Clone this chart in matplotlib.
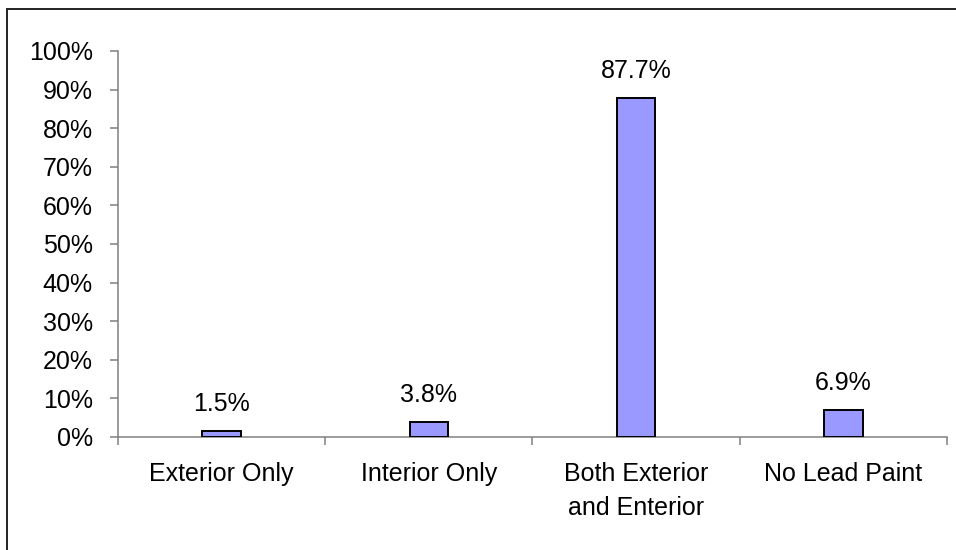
import matplotlib.pyplot as plt
import matplotlib.patches as mpatches
from matplotlib.ticker import FixedLocator, PercentFormatter

plt.rcParams['font.family'] = ['Liberation Sans', 'DejaVu Sans']

# lead paint location shares
categories = ['Exterior Only', 'Interior Only', 'Both Exterior\nand Enterior', 'No Lead Paint']
shares = [1.5, 3.8, 87.7, 6.9]
yticks = [0, 10, 20, 30, 40, 50, 60, 70, 80, 90, 100]

fig = plt.figure(figsize=(9.56, 5.5), dpi=100)
ax = fig.add_axes([0.1234, 0.2055, 0.9906 - 0.1234, 0.9073 - 0.2055])

x = list(range(len(categories)))
bars = ax.bar(x, shares, width=0.185, color='#9999FF', edgecolor='black', linewidth=1.4, zorder=3)

for b, v in zip(bars, shares):
    ax.annotate(f'{v:.1f}%', (b.get_x() + b.get_width() / 2, v),
                xytext=(0, 14.5), textcoords='offset points',
                ha='center', va='baseline', fontsize=18)

ax.set_xlim(-0.5, len(categories) - 0.5)
ax.set_ylim(0, 100)
ax.yaxis.set_major_locator(FixedLocator(yticks))
ax.yaxis.set_major_formatter(PercentFormatter(decimals=0))

# category labels centred, ticks between categories
ax.set_xticks(x)
ax.set_xticklabels(categories, fontsize=18, linespacing=1.55)
ax.tick_params(axis='x', which='major', length=0, pad=18)
ax.set_xticks([i - 0.5 for i in range(len(categories) + 1)], minor=True)
ax.tick_params(axis='x', which='minor', length=6, width=1.1, color='#808080', direction='out')
ax.tick_params(axis='y', labelsize=18, length=6, width=1.1, color='#808080', pad=12)

for side in ['top', 'right']:
    ax.spines[side].set_visible(False)
for side in ['left', 'bottom']:
    ax.spines[side].set_color('#808080')
    ax.spines[side].set_linewidth(1.1)

# chart area frame
frame = mpatches.Rectangle((7 / 956, -0.05), 1.05, 1 - 9 / 550 + 0.05,
                           transform=fig.transFigure, fill=False,
                           edgecolor='#222222', linewidth=1.4, clip_on=False)
fig.patches.append(frame)

fig.savefig('out.png', dpi=100)
